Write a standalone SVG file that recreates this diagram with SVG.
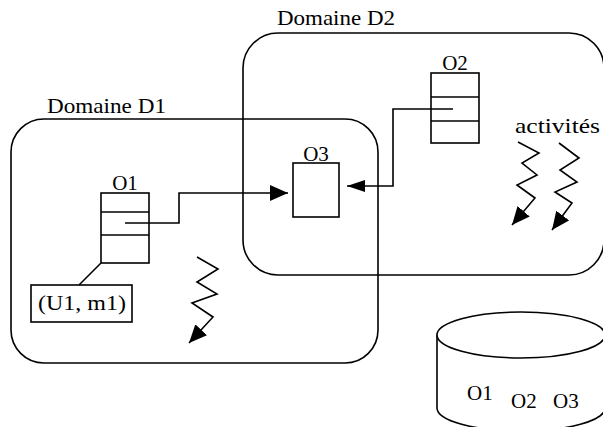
<svg xmlns="http://www.w3.org/2000/svg" width="603" height="427" viewBox="0 0 603 427">
<style>
.s{fill:none;stroke:#000;stroke-width:1.6}
.b{fill:#fff;stroke:#000;stroke-width:1.6}
.t{font-family:'Liberation Serif','DejaVu Serif','Times New Roman',serif;font-size:21px;fill:#000}
.c{text-anchor:middle}
</style>
<defs>
<marker id="ah" markerUnits="userSpaceOnUse" markerWidth="18" markerHeight="16" refX="18" refY="8" orient="auto">
<path d="M0,0 L18,8 L0,16 z" fill="#000"/>
</marker>
<marker id="ahs" markerUnits="userSpaceOnUse" markerWidth="18" markerHeight="12" refX="18" refY="6" orient="auto">
<path d="M0,0 L18,6 L0,12 z" fill="#000"/>
</marker>
</defs>
<g id="domaineD1">
<rect class="s" x="11" y="119" width="367" height="244" rx="33" ry="33"/>
<text class="t" font-family="Liberation Serif, serif" x="47" y="113" textLength="119" lengthAdjust="spacingAndGlyphs">Domaine D1</text>
</g>
<g id="domaineD2">
<rect class="s" x="243" y="33" width="361" height="242" rx="35" ry="35"/>
<text class="t" font-family="Liberation Serif, serif" x="277" y="25" textLength="118" lengthAdjust="spacingAndGlyphs">Domaine D2</text>
</g>
<g id="O1">
<rect class="b" x="101" y="193" width="48" height="70"/>
<line class="s" x1="101" y1="212" x2="149" y2="212"/>
<line class="s" x1="101" y1="235" x2="149" y2="235"/>
<text class="t c" font-family="Liberation Serif, serif" x="125" y="190">O1</text>
</g>
<g id="O2">
<rect class="b" x="431" y="73" width="48" height="70"/>
<line class="s" x1="431" y1="97" x2="479" y2="97"/>
<line class="s" x1="431" y1="121" x2="479" y2="121"/>
<text class="t c" font-family="Liberation Serif, serif" x="455" y="70">O2</text>
</g>
<g id="O3">
<rect class="b" x="293" y="163" width="46" height="54"/>
<text class="t c" font-family="Liberation Serif, serif" x="316" y="161">O3</text>
</g>
<g id="U1m1">
<rect class="b" x="31" y="285" width="101" height="37"/>
<text class="t c" font-family="Liberation Serif, serif" x="82" y="310" textLength="88" lengthAdjust="spacingAndGlyphs">(U1, m1)</text>
</g>
<g id="activites">
<text class="t" font-family="Liberation Serif, serif" x="515" y="133" textLength="85" lengthAdjust="spacingAndGlyphs">activités</text>
</g>
<g id="stockage">
<path class="b" d="M437,335 V408 A84,23 0 0 0 605,408 V335"/>
<ellipse class="b" cx="521" cy="335" rx="84" ry="23"/>
<text class="t" font-family="Liberation Serif, serif" x="467" y="400">O1</text>
<text class="t" font-family="Liberation Serif, serif" x="511" y="408">O2</text>
<text class="t" font-family="Liberation Serif, serif" x="553" y="408">O3</text>
</g>
<g id="connectors">
<polyline class="s" points="125,223 179,223 179,193 288,193" marker-end="url(#ah)"/>
<polyline class="s" points="453,109 393,109 393,186 347,186" marker-end="url(#ahs)"/>
<line class="s" x1="101" y1="263" x2="79" y2="285"/>
<polyline class="s" points="197,257 218,269 197,282 217,294 192,303 213,317 189,343" marker-end="url(#ah)"/>
<polyline class="s" points="518,142 539,153 522,163 537,175 517,185 535,198 512,225" marker-end="url(#ah)"/>
<polyline class="s" points="559,143 579,158 560,170 577,182 555,192 572,203 552,230" marker-end="url(#ah)"/>
</g>
</svg>
